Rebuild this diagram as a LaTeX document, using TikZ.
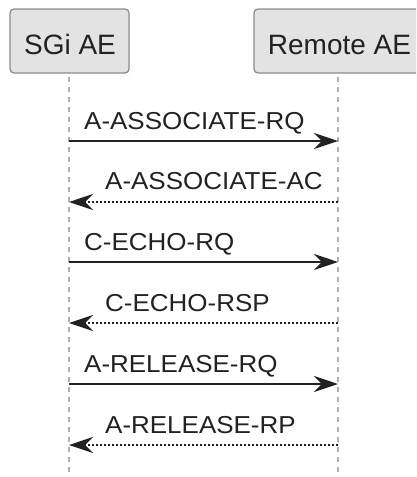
\documentclass[tikz,border=0pt]{standalone}
\usepackage{fontspec}
\setmainfont{Liberation Sans}
\newfontfamily\lblfont[FakeStretch=1.06]{Liberation Sans}
\usetikzlibrary{arrows.meta}
\definecolor{boxfill}{HTML}{E3E3E3}
\definecolor{boxdraw}{HTML}{8C8C8C}
\definecolor{lifecol}{HTML}{B0B0B0}
\definecolor{ink}{HTML}{222222}
\tikzset{
  x=1pt, y=1pt,
  actorbox/.style={draw=boxdraw, fill=boxfill, line width=1.3pt, rounded corners=4pt},
  actortext/.style={font=\fontsize{28}{30}\selectfont, text=ink, inner sep=0pt},
  lifeline/.style={draw=lifecol, line width=2.6pt, dash pattern=on 5pt off 5pt},
  req/.style={draw=ink, line width=1.6pt, -{Stealth[length=24pt, width=16pt, inset=8pt]}},
  resp/.style={draw=ink, line width=1.4pt, dash pattern=on 2pt off 2pt, -{Stealth[length=24pt, width=16pt, inset=8pt]}},
  msg/.style={font=\lblfont\fontsize{24.5}{26}\selectfont, text=ink, inner sep=0pt, anchor=base west},
}
\begin{document}
\begin{tikzpicture}
\clip (0,0) rectangle (416,-477);
\fill[white] (0,0) rectangle (416,-477);
% lifelines
\coordinate (lt) at (69,-77);
\coordinate (lb) at (69,-477);
\coordinate (rt) at (338,-77);
\coordinate (rb) at (338,-477);
\draw[lifeline] (lt) -- (lb);
\draw[lifeline] (rt) -- (rb);
% actor boxes
\draw[actorbox] (10,-9) rectangle (129,-73);
\draw[actorbox] (254,-9) rectangle (424,-73);
\node[actortext, anchor=base] (sgi) at (70,-54) {SGi AE};
\node[actortext, anchor=base] (remote) at (339.5,-54) {Remote AE};
% message anchor points
\foreach \i/\y in {1/141,2/202,3/262,4/323,5/384,6/445}{
  \coordinate (L\i) at (69,-\y);
  \coordinate (R\i) at (338,-\y);
}
\draw[req] (L1) -- (R1);
\node[msg] (m1) at (84,-129) {A-ASSOCIATE-RQ};
\draw[resp] (R2) -- (L2);
\node[msg] (m2) at (105,-189) {A-ASSOCIATE-AC};
\draw[req] (L3) -- (R3);
\node[msg] (m3) at (84,-250) {C-ECHO-RQ};
\draw[resp] (R4) -- (L4);
\node[msg] (m4) at (105,-311) {C-ECHO-RSP};
\draw[req] (L5) -- (R5);
\node[msg] (m5) at (84,-372) {A-RELEASE-RQ};
\draw[resp] (R6) -- (L6);
\node[msg] (m6) at (105,-433) {A-RELEASE-RP};
\end{tikzpicture}
\end{document}
